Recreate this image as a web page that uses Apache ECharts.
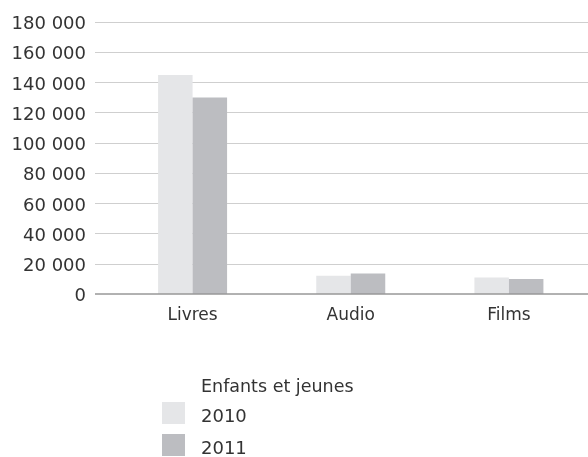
<!DOCTYPE html>
<html><head><meta charset="utf-8">
<script src="https://cdn.jsdelivr.net/npm/echarts@6/dist/echarts.min.js"></script>
<style>html,body{margin:0;padding:0;background:#fff}#c{width:588px;height:457px}</style>
</head><body><div id="c"></div>
<script>
const categories = ['Livres', 'Audio', 'Films'];
const series2010 = [145000, 12000, 11000];
const series2011 = [130000, 13500, 10000];
const yTicks = [0, 20000, 40000, 60000, 80000, 100000, 120000, 140000, 160000, 180000];
const legendTitle = 'Enfants et jeunes';
const seriesNames = ['2010', '2011'];

const fmt = v => '{a|' + String(v).replace(/\B(?=(\d{3})+(?!\d))/g, ' ') + '}';
const chart = echarts.init(document.getElementById('c'));
const font = 'DejaVu Sans';
const legendBase = {
  orient: 'vertical', left: 162, itemWidth: 23, itemHeight: 22,
  icon: 'rect', padding: 0,
  formatter: n => '{a|' + n + '}',
  textStyle: { rich: { a: { color: '#333', fontSize: 18, fontFamily: font, padding: [8, 0, 0, 11] } } }
};
chart.setOption({
  animation: false,
  textStyle: { fontFamily: font },
  grid: [
    { left: 95, right: 0, top: 22, bottom: 163 },
    { left: 113.5, width: 477, top: 22, bottom: 163 }
  ],
  xAxis: [
    { gridIndex: 0, type: 'value', show: false, min: 0, max: 1 },
    { gridIndex: 1, type: 'category', data: categories,
      axisLine: { show: false }, axisTick: { show: false },
      axisLabel: { color: '#333', fontSize: 17, fontFamily: font, margin: 13 } }
  ],
  yAxis: [
    { gridIndex: 0, type: 'value', min: yTicks[0], max: yTicks[yTicks.length - 1], interval: 20000,
      axisLine: { show: false }, axisTick: { show: false },
      splitLine: { lineStyle: { color: '#cfcfcf', width: 1 } },
      axisLabel: { margin: 9, formatter: fmt,
        rich: { a: { color: '#333', fontSize: 18, fontFamily: font, padding: [5, 0, 0, 0] } } } },
    { gridIndex: 1, type: 'value', min: yTicks[0], max: yTicks[yTicks.length - 1], interval: 20000, show: false }
  ],
  legend: [
    Object.assign({}, legendBase, { top: 402, data: [seriesNames[0]] }),
    Object.assign({}, legendBase, { top: 434, data: [seriesNames[1]] })
  ],
  graphic: [{ type: 'text', left: 201, top: 378, style: { text: legendTitle, fill: '#333', font: '17.5px "DejaVu Sans"' } }],
  series: [
    { name: seriesNames[0], type: 'bar', xAxisIndex: 1, yAxisIndex: 1, data: series2010, barWidth: 34.5, barGap: '0%', itemStyle: { color: '#e5e6e8' } },
    { name: seriesNames[1], type: 'bar', xAxisIndex: 1, yAxisIndex: 1, data: series2011, barWidth: 34.5, barGap: '0%', itemStyle: { color: '#bcbdc1' } },
    { type: 'line', xAxisIndex: 0, yAxisIndex: 0, data: [[0, 0], [1, 0]], symbol: 'none', silent: true, z: 5,
      lineStyle: { color: '#999', width: 1.5 } }
  ]
});
</script></body></html>
